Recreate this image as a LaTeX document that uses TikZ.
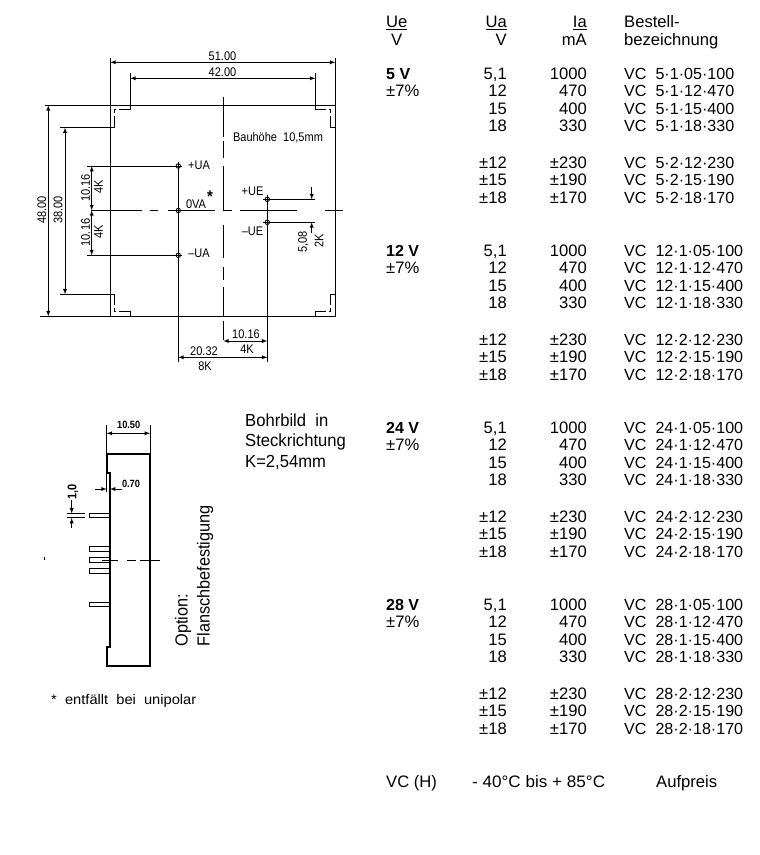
\documentclass[tikz,border=0pt]{standalone}
\usepackage{fontspec}
\setmainfont{Liberation Sans}
\usetikzlibrary{arrows,positioning}
\tikzset{
  part/.style={line width=1pt},
  heavy/.style={line width=1.7pt},
  thin line/.style={line width=0.85pt},
  dim/.style={line width=0.85pt,>=latex},
  cadtext/.style={inner sep=0pt,xscale=0.88,font=\fontsize{12.5}{12.5}\selectfont},
  bigtext/.style={inner sep=0pt,anchor=west,xscale=0.95,font=\fontsize{17.5}{18}\selectfont},
  pin/.style={circle,draw,line width=0.85pt,inner sep=0pt,minimum size=4.5pt},
  lefttab/.style={inner sep=0pt,anchor=base west,font=\fontsize{16.6}{17}\selectfont},
  righttab/.style={inner sep=0pt,anchor=base east,font=\fontsize{16.6}{17}\selectfont}
}
\begin{document}
\begin{tikzpicture}[x=1pt,y=-1pt]
  \useasboundingbox (0,0) rectangle (760,855);
  % top view
  \draw[part] (110.3,105.3) rectangle (335.3,316.3);
  \foreach \sx/\px/\sy/\py in {1/110.3/1/105.3,-1/335.3/1/105.3,1/110.3/-1/316.3,-1/335.3/-1/316.3}{
    \draw[thin line,xshift=\px pt,yshift=-\py pt,xscale=\sx,yscale=\sy]
      (20,0) -- (20,4.4) -- (9,4.4) (6,4.4) -- (4.4,4.4) -- (4.4,8) (4.4,11) -- (4.4,22) -- (0,22);
  }
  \coordinate (UAp) at (178.3,166);
  \coordinate (UA0) at (178.3,210.5);
  \coordinate (UAm) at (178.3,255.3);
  \coordinate (UEp) at (267.3,199.3);
  \coordinate (UEm) at (267.3,222.3);
  % centre lines
  \foreach \a/\b in {96.7/137,141/158,166/210,225/258,267/280,287/316.3,321/340}{
    \draw[thin line] (223.3,\a) -- (223.3,\b);
  }
  \draw[thin line] (91,210.3) -- (142,210.3) (150,210.3) -- (158,210.3) (168,210.3) -- (215,210.3)
    (223.3,210.3) -- (232,210.3) (240,210.3) -- (297,210.3) (325,210.3) -- (343,210.3);
  % pins
  \draw[thin line] (UAp) -- (UAm) (UAm) -- (178.3,361.7);
  \draw[thin line] (UEp) -- (267.3,361.7);
  \foreach \p in {UAp,UA0,UAm,UEp,UEm}{
    \node[pin] (pin\p) at (\p) {};
    \draw[thin line] ([xshift=-4pt]\p) -- ([xshift=4pt]\p) ([yshift=-4pt]\p) -- ([yshift=4pt]\p);
  }
  % dimensions
  \draw[thin line] (110.3,105.3) -- (110.3,58) (335.3,105.3) -- (335.3,58);
  \draw[dim,<->] (110.3,62.3) -- (335.3,62.3);
  \draw[thin line] (130.3,105.3) -- (130.3,73) (315.3,105.3) -- (315.3,73);
  \draw[dim,<->] (130.3,78.3) -- (315.3,78.3);
  \draw[thin line] (110.3,105.3) -- (45,105.3) (110.3,316.3) -- (40,316.3);
  \draw[dim,<->] (48.3,105.3) -- (48.3,316.3);
  \draw[thin line] (110.3,127.7) -- (60,127.7) (110.3,294.3) -- (60,294.3);
  \draw[dim,<->] (65,127.7) -- (65,294.3);
  \draw[thin line] (UAp) -- (87,166) (UAm) -- (87,255.3);
  \draw[dim,<->] (91.7,166) -- (91.7,210.3);
  \draw[dim,<->] (91.7,210.3) -- (91.7,255.3);
  \draw[thin line] (UEp) -- (315,199.3) (UEm) -- (315,222.3);
  \draw[dim,<-] (311.7,199.3) -- (311.7,186.7);
  \draw[dim,<-] (311.7,222.3) -- (311.7,233);
  \draw[dim,<->] (223.3,341) -- (267.3,341);
  \draw[dim,<->] (178.3,357.3) -- (267.3,357.3);
  % labels of the top view
  \node[cadtext] (l51) at (222.5,55.7) {51.00};
  \node[cadtext] (l42) at (222.5,72.3) {42.00};
  \node[rotate=90,cadtext] (l48) at (41.7,210) {48.00};
  \node[rotate=90,cadtext] (l38) at (58,210) {38.00};
  \node[rotate=90,cadtext] (l10a) at (85.5,188) {10.16};
  \node[rotate=90,cadtext] (l4a) at (98.5,187) {4K};
  \node[rotate=90,cadtext] (l10b) at (85.5,232.5) {10.16};
  \node[rotate=90,cadtext] (l4b) at (98.5,231.7) {4K};
  \node[rotate=90,cadtext] (l5) at (303.3,241.7) {5,08};
  \node[rotate=90,cadtext] (l2) at (319,240.7) {2K};
  \node[cadtext] (l10c) at (246,334.3) {10.16};
  \node[cadtext] (l4c) at (247,349) {4K};
  \node[cadtext] (l20) at (204,350.7) {20.32};
  \node[cadtext] (l8) at (205,365.7) {8K};
  \node[cadtext,xscale=1.0] (lbau) at (278,137.3) {Bauhöhe\ \ 10,5mm};
  \node[cadtext] (lUAp) at (199,165) {+UA};
  \node[cadtext] (lUA0) at (196,204) {0VA};
  \node[cadtext,font=\fontsize{17}{17}\bfseries] (lstar) at (210,196.5) {*};
  \node[cadtext] (lUEp) at (252.5,191.7) {+UE};
  \node[cadtext] (lUEm) at (252.5,231.7) {–UE};
  \node[cadtext] (lUAm) at (199,253) {–UA};
  % side view
  \draw[heavy] (110,473.3) -- (106.7,473.3) -- (106.7,454.3) -- (150,454.3) -- (150,665.7)
    -- (106.7,665.7) -- (106.7,647.3) -- (110,647.3) -- cycle;
  \foreach \y in {515.7,549,560,571,604.3}{
    \draw[thin line] (110,\y-2.2) -- (89.3,\y-2.2) -- (89.3,\y+2.2) -- (110,\y+2.2);
  }
  \draw[thin line] (101.7,560) -- (118,560) (127,560) -- (136,560) (140,560) -- (160,560);
  \draw[thin line] (44.7,556.5) -- (44.7,559.5);
  \draw[thin line] (106.7,454.3) -- (106.7,425) (150,454.3) -- (150,425);
  \draw[dim,<->] (106.7,433.3) -- (150,433.3);
  \draw[thin line] (106.7,473.3) -- (106.7,492) (110,473.3) -- (110,492);
  \draw[dim,<-] (106.7,489) -- (95,489);
  \draw[dim,<-] (110,489) -- (121.7,489);
  \draw[thin line] (66.7,513.5) -- (85,513.5) (66.7,517.9) -- (85,517.9);
  \draw[dim,<-] (71.7,513.5) -- (71.7,500);
  \draw[dim,<-] (71.7,517.9) -- (71.7,528);
  \node[cadtext,font=\fontsize{10.5}{11}\bfseries] (l105) at (128.7,425) {10.50};
  \node[cadtext,font=\fontsize{10.5}{11}\bfseries] (l07) at (131,483.5) {0.70};
  \node[rotate=90,cadtext,font=\fontsize{12.5}{13}\bfseries] (l1) at (73,492) {1,0};
  % notes
  \node[bigtext] (n1) at (245,420) {Bohrbild\ \ in};
  \node[bigtext] (n2) at (245,441.5) {Steckrichtung};
  \node[bigtext] (n3) at (245,463) {K=2,54mm};
  \node[rotate=90,bigtext,xscale=0.98] (opt1) at (183,646.7) {Option:};
  \node[rotate=90,bigtext,xscale=0.98] (opt2) at (205,646.7) {Flanschbefestigung};
  \node[cadtext,xscale=1.19,anchor=west,font=\fontsize{14}{14}\selectfont] (star) at (51,700.5) {*\ \ entfällt\ \ bei\ \ unipolar};
  % table
  \node[lefttab] (hUe) at (386,27.5) {\underline{Ue}};
  \node[lefttab] (hV) at (391,45) {V};
  \node[righttab] (hUa) at (507,27.5) {\underline{Ua}};
  \node[righttab] (hUaV) at (507,45) {V};
  \node[righttab] (hIa) at (587,27.5) {\underline{Ia}};
  \node[righttab] (hmA) at (587,45) {mA};
  \node[lefttab] (hB1) at (624,27.5) {Bestell-};
  \node[lefttab] (hB2) at (624,45) {bezeichnung};
  \foreach \ue/\top in {5/74,12/251,24/428,28/605}{
    \node[lefttab,font=\fontsize{16}{17}\bfseries] (ue\ue) at (386,\top+5.5) {\ue\ V};
    \node[lefttab] (tol\ue) at (386,\top+22.5) {±7\%};
    \foreach \d/\ua/\ia/\code in {0/{5,1}/1000/1·05·100,17/12/470/1·12·470,35/15/400/1·15·400,52/18/330/1·18·330,
        89/±12/±230/2·12·230,106/±15/±190/2·15·190,124/±18/±170/2·18·170}{
      \node[righttab] (ua\ue-\d) at (507,\top+\d+5.5) {\ua};
      \node[righttab] (ia\ue-\d) at (587,\top+\d+5.5) {\ia};
      \node[lefttab,font=\fontsize{16.1}{17}\selectfont] (vc\ue-\d) at (624,\top+\d+5.5) {VC\ \ \ue·\code};
    }
  }
  \node[lefttab] (fVC) at (386,787.5) {VC (H)};
  \node[lefttab,xscale=1.03] (fT) at (472,787.5) {- 40°C bis + 85°C};
  \node[lefttab] (fA) at (656,787.5) {Aufpreis};
\end{tikzpicture}
\end{document}
